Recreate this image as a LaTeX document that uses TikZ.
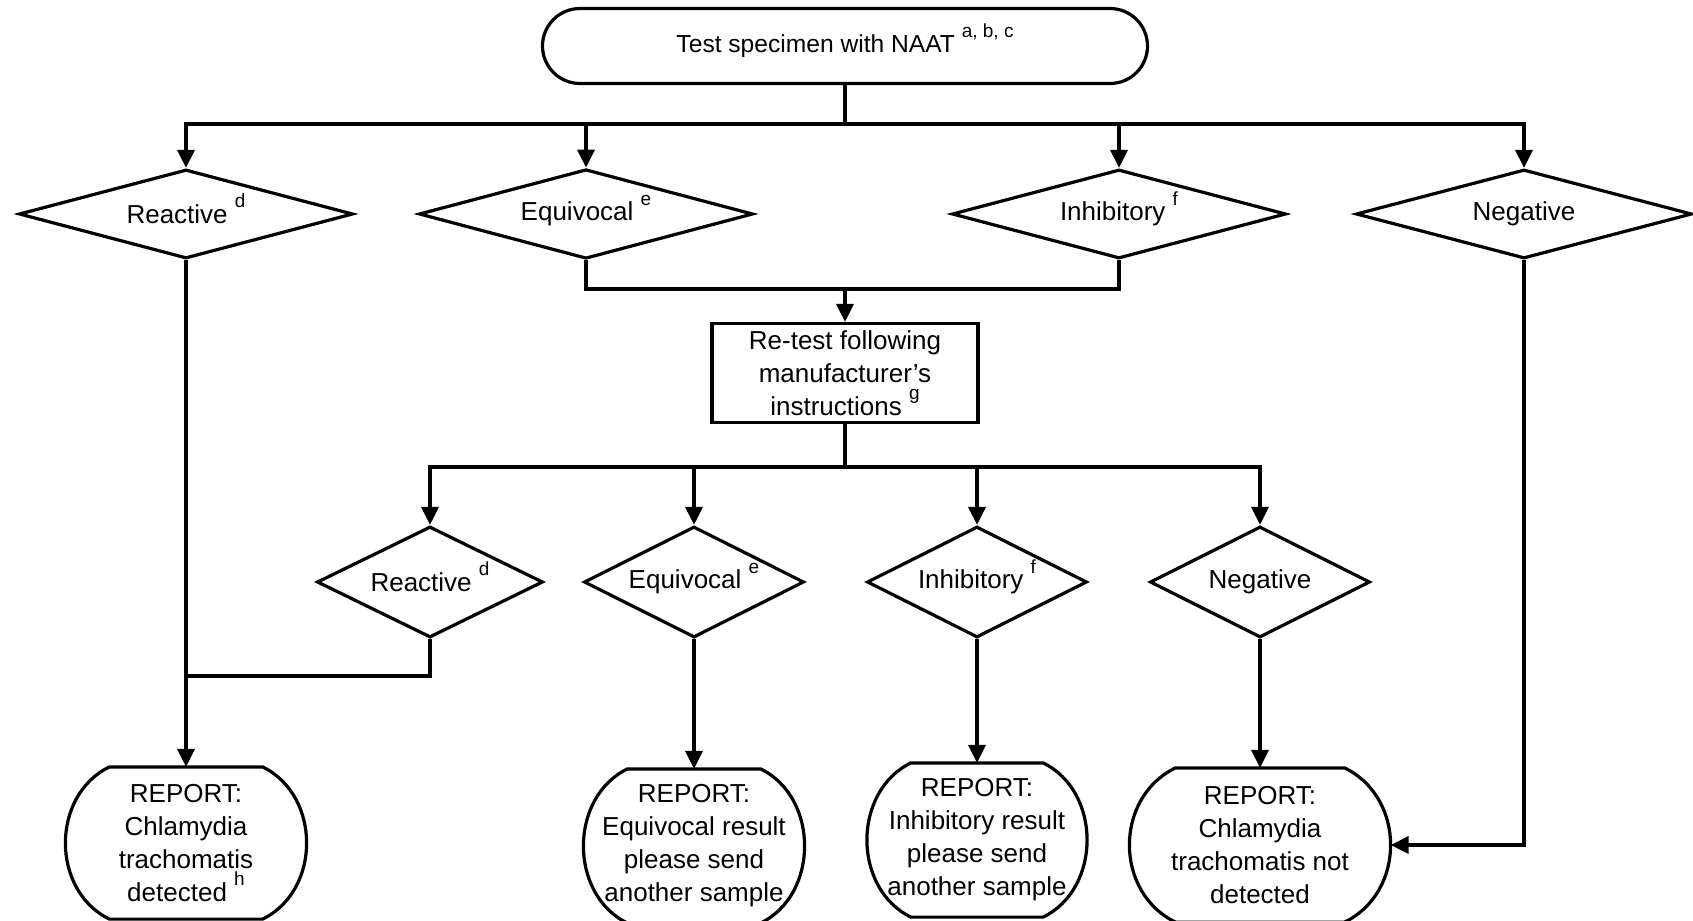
\documentclass[tikz,border=0pt]{standalone}
\usepackage{fontspec}
\setmainfont{Liberation Sans}
\usetikzlibrary{arrows.meta}
\usetikzlibrary{positioning}
\usetikzlibrary{shapes.geometric}
\usetikzlibrary{shapes.misc}

% raised footnote letters
\newcommand{\supr}[1]{\raisebox{0.6em}[0pt][0pt]{\fontsize{9.5}{9.5}\selectfont #1}}

\begin{document}
\begin{tikzpicture}[
		x=0.5pt, y=-0.5pt,
		line width=1.6pt,
		font=\fontsize{13}{16.5}\selectfont,
		arrow/.style={-{Triangle[length=9pt,width=8.5pt]}},
		start/.style={rounded rectangle, draw, minimum width=302.5pt, minimum height=37.5pt, inner sep=0pt, font=\fontsize{12.3}{15}\selectfont},
		decision/.style={diamond, draw, aspect=2, inner sep=0pt, minimum width=167pt, minimum height=44.5pt},
		smalldecision/.style={decision, minimum width=110pt, minimum height=55.5pt},
		process/.style={rectangle, draw, align=center, minimum width=133pt, minimum height=49.5pt, inner sep=0pt},
		report/.style={align=center, inner sep=0pt, minimum height=75.5pt},
	]
	\useasboundingbox (0,0) rectangle (1693,921);

	\node (test) [start] at (845,46) {Test specimen with NAAT \supr{a, b, c}};

	\node (re1) [decision] at (186,214) {Reactive \supr{d}};
	\node (eq1) [decision] at (586,214) {Equivocal \supr{e}};
	\node (in1) [decision] at (1119,214) {Inhibitory \supr{f}};
	\node (ng1) [decision, minimum width=168pt] at (1524,214) {Negative};

	\node (retest) [process] at (845,373) {Re-test following\\manufacturer's\\instructions \supr{g}};

	\node (re2) [smalldecision, minimum width=113pt] at (430,582) {Reactive \supr{d}};
	\node (eq2) [smalldecision] at (694,582) {Equivocal \supr{e}};
	\node (in2) [smalldecision] at (977,582) {Inhibitory \supr{f}};
	\node (ng2) [smalldecision] at (1260,582) {Negative};

	\node (rep1) [report, minimum width=119pt, minimum height=74.5pt] at (186,843) {REPORT:\\Chlamydia\\trachomatis\\detected \supr{h}};
	\node (rep2) [report, minimum width=109pt] at (694,846) {REPORT:\\Equivocal result\\please send\\another sample};
	\node (rep3) [report, minimum width=108.5pt] at (977,840) {REPORT:\\Inhibitory result\\please send\\another sample};
	\node (rep4) [report, minimum width=129pt] at (1260,845) {REPORT:\\Chlamydia\\trachomatis not\\detected};

	% outlines of the report nodes
	\foreach \n/\b in {rep1/22pt,rep2/22pt,rep3/22pt,rep4/23pt}
		\draw ([xshift=\b]\n.north west) -- ([xshift=-\b]\n.north east)
			.. controls ([xshift=\b/3, yshift=-0.65*\b]\n.north east) and ([xshift=\b/3, yshift=0.65*\b]\n.south east) .. ([xshift=-\b]\n.south east)
			-- ([xshift=\b]\n.south west)
			.. controls ([xshift=-\b/3, yshift=0.65*\b]\n.south west) and ([xshift=-\b/3, yshift=-0.65*\b]\n.north west) .. cycle;

	\coordinate (split1) at (845,124);
	\coordinate (merge) at (845,289);
	\coordinate (split2) at (845,467);
	\coordinate (join) at (186,676);

	\draw (test.south) -- (split1);
	\foreach \n in {re1,eq1,in1,ng1}
		\draw[arrow] (split1) -| (\n.north);
	\draw (eq1.south) |- (merge) -| (in1.south);
	\draw[arrow] (merge) -- (retest.north);
	\draw (retest.south) -- (split2);
	\foreach \n in {re2,eq2,in2,ng2}
		\draw[arrow] (split2) -| (\n.north);
	\draw (re2.south) |- (join);
	\draw[arrow] (re1.south) -- (rep1.north);
	\draw[arrow] (eq2.south) -- (rep2.north);
	\draw[arrow] (in2.south) -- (rep3.north);
	\draw[arrow] (ng2.south) -- (rep4.north);
	\draw[arrow] (ng1.south) |- (rep4.east);
\end{tikzpicture}
\end{document}
